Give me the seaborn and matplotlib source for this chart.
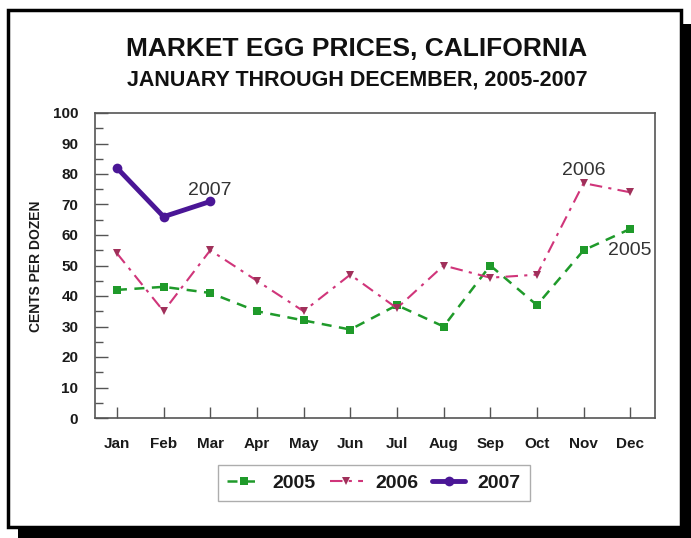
import matplotlib
matplotlib.use("Agg")
import matplotlib.pyplot as plt
from matplotlib.patches import Rectangle
from matplotlib.ticker import MultipleLocator
import pandas as pd
import seaborn as sns

MONTHS = ["Jan", "Feb", "Mar", "Apr", "May", "Jun", "Jul", "Aug", "Sep", "Oct", "Nov", "Dec"]
PRICES_2005 = [42, 43, 41, 35, 32, 29, 37, 30, 50, 37, 55, 62]
PRICES_2006 = [54, 35, 55, 45, 35, 47, 36, 50, 46, 47, 77, 74]
PRICES_2007 = [82, 66, 71]

sns.set_theme(style="white")
plt.rcParams["font.family"] = ["Liberation Sans", "DejaVu Sans"]

fig = plt.figure(figsize=(6.91, 5.38), dpi=100)
W, H = 691, 538

# drop shadow + framed panel
fig.patches.append(Rectangle((18 / W, 0), 673 / W, 1 - 24 / H, transform=fig.transFigure,
                             facecolor="black", edgecolor="none", zorder=0))
fig.patches.append(Rectangle((8 / W, 1 - 527 / H), 673 / W, 517 / H, transform=fig.transFigure,
                             facecolor="white", edgecolor="black", linewidth=2.5, zorder=1))

ax = fig.add_axes([95 / W, 1 - 418 / H, 560 / W, 305 / H])
ax.set_zorder(2)

x = list(range(len(MONTHS)))
df05 = pd.DataFrame({"m": x, "v": PRICES_2005})
df06 = pd.DataFrame({"m": x, "v": PRICES_2006})
df07 = pd.DataFrame({"m": x[: len(PRICES_2007)], "v": PRICES_2007})

sns.lineplot(data=df05, x="m", y="v", ax=ax, color="#1f9a2a", linestyle=(0, (4, 3)),
             linewidth=1.8, marker="s", markersize=6, markeredgewidth=0, label="2005")
sns.lineplot(data=df06, x="m", y="v", ax=ax, color="#d0357a", linestyle=(0, (6, 3, 1.5, 3)),
             linewidth=1.5, marker="v", markersize=6, markeredgewidth=0,
             markerfacecolor="#a0305a", label="2006")
sns.lineplot(data=df07, x="m", y="v", ax=ax, color="#4a1696", linestyle="-",
             linewidth=3.5, marker="o", markersize=7, markeredgewidth=0, label="2007")

ax.text(1.99, 74.5, "2007", ha="center", va="center", fontsize=14, color="#333333")
ax.text(10.0, 81, "2006", ha="center", va="center", fontsize=14, color="#333333")
ax.text(10.98, 55, "2005", ha="center", va="center", fontsize=14, color="#333333")

ax.set_xlim(-0.47, 11.53)
ax.set_ylim(0, 100)
ax.set_xticks(x)
ax.set_xticklabels(MONTHS)
ax.yaxis.set_major_locator(MultipleLocator(10))
ax.yaxis.set_minor_locator(MultipleLocator(5))
ax.tick_params(axis="y", which="major", direction="in", length=9, width=1, color="#555555",
               labelsize=11, pad=12, left=True, labelcolor="#1a1a1a")
ax.tick_params(axis="y", which="minor", direction="in", length=6, width=1, color="#555555", left=True)
ax.tick_params(axis="x", direction="in", length=8, width=1, color="#555555",
               labelsize=11, pad=14, bottom=True, labelcolor="#1a1a1a")
for lab in ax.get_xticklabels() + ax.get_yticklabels():
    lab.set_fontweight("bold")
for s in ax.spines.values():
    s.set_color("#555555")
    s.set_linewidth(1.2)

ax.set_xlabel("")
ax.set_ylabel("")
fig.text(36 / W, 1 - 266 / H, "CENTS PER DOZEN", rotation=90, ha="center", va="center",
         fontsize=10, fontweight="bold", color="#1a1a1a", zorder=3)

leg = ax.legend(loc="center", bbox_to_anchor=(374 / W, 1 - 483 / H), bbox_transform=fig.transFigure,
                ncol=3, frameon=True, fancybox=False, fontsize=14, handlelength=1.7,
                columnspacing=0.7, handletextpad=0.65, borderpad=0.45, borderaxespad=0)
leg.get_frame().set_edgecolor("#999999")
leg.get_frame().set_linewidth(1)
for t in leg.get_texts():
    t.set_fontweight("bold")
    t.set_color("#1a1a1a")

fig.text(357 / W, 1 - 49 / H, "MARKET EGG PRICES, CALIFORNIA", ha="center", va="center",
         fontsize=19, fontweight="bold", color="#111111", zorder=3)
fig.text(357 / W, 1 - 80 / H, "JANUARY THROUGH DECEMBER, 2005-2007", ha="center", va="center",
         fontsize=15.5, fontweight="bold", color="#111111", zorder=3)

fig.savefig("out.png", dpi=100)
